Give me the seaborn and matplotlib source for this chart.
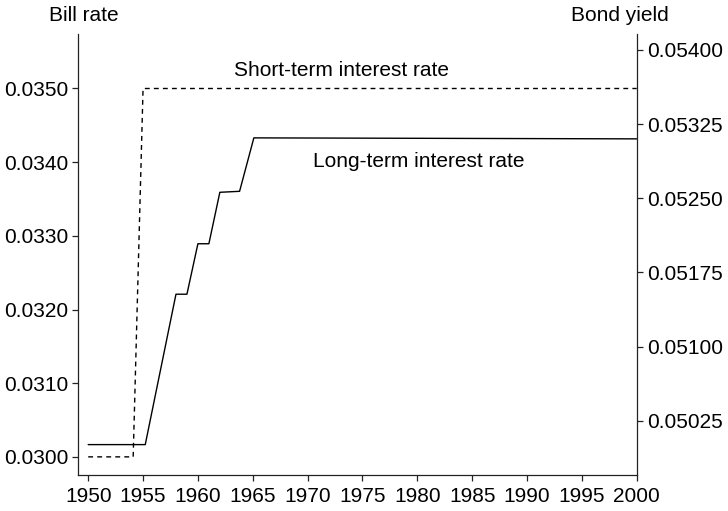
import pandas as pd
import numpy as np
import matplotlib
matplotlib.use("Agg")
import matplotlib.pyplot as plt
import seaborn as sns

# Values
short_years = [1950, 1954.1, 1955, 2000]
bill_rate = [0.0300, 0.0300, 0.0350, 0.0350]

long_years = [1950, 1955.2, 1958, 1959, 1960, 1961, 1962, 1963.8, 1965.1, 2000]
bond_yield = [0.05001, 0.05001, 0.05153, 0.05153, 0.05204, 0.05204,
              0.05256, 0.05257, 0.05311, 0.05310]

x_ticks = list(range(1950, 2001, 5))
left_ticks = [0.0300, 0.0310, 0.0320, 0.0330, 0.0340, 0.0350]
right_ticks = [0.05025, 0.05100, 0.05175, 0.05250, 0.05325, 0.05400]

df_short = pd.DataFrame({"year": short_years, "rate": bill_rate})
df_long = pd.DataFrame({"year": long_years, "yield": bond_yield})

sns.set_style("ticks")
plt.rcParams["font.family"] = ["Liberation Sans", "DejaVu Sans"]
plt.rcParams["font.size"] = 15
plt.rcParams["text.color"] = "black"

FS = 15

fig = plt.figure(figsize=(7.28, 5.11), dpi=100)
ax = fig.add_axes([0.1076, 0.0699, 0.767, 0.8636])
ax2 = ax.twinx()

sns.lineplot(data=df_short, x="year", y="rate", ax=ax, color="black",
             lw=1.0, linestyle=(0, (3.5, 3)))
sns.lineplot(data=df_long, x="year", y="yield", ax=ax2, color="black", lw=1.0)

ax.set_xlim(1949.1, 2000)
ax.set_ylim(0.02975, 0.03574)
ax2.set_ylim(0.0497, 0.05416)

ax.set_xticks(x_ticks)
ax.set_yticks(left_ticks)
ax.set_yticklabels([f"{v:.4f}" for v in left_ticks])
ax2.set_yticks(right_ticks)
ax2.set_yticklabels([f"{v:.5f}" for v in right_ticks])

ax.set_xlabel("")
ax.set_ylabel("")
ax2.set_ylabel("")

for a in (ax, ax2):
    a.spines["top"].set_visible(False)
    for s in ("left", "right", "bottom"):
        a.spines[s].set_linewidth(0.9)
        a.spines[s].set_color("#222222")
    a.tick_params(axis="both", direction="out", length=4.3, width=0.9,
                  labelsize=FS, colors="#222222", labelcolor="black")
ax.spines["right"].set_visible(False)
ax2.spines["left"].set_visible(False)
ax2.spines["bottom"].set_visible(False)
ax.tick_params(axis="y", pad=3)
ax.tick_params(axis="x", pad=4)
ax2.tick_params(axis="y", pad=3)

ax.text(1973.1, 0.03524, "Short-term interest rate", ha="center", va="center",
        fontsize=FS, color="black")
ax.text(1980.1, 0.03401, "Long-term interest rate", ha="center", va="center",
        fontsize=FS, color="black")

fig.text(83.5 / 728, 1 - 15 / 511, "Bill rate", ha="center", va="center",
         fontsize=FS, color="black")
fig.text(620 / 728, 1 - 15 / 511, "Bond yield", ha="center", va="center",
         fontsize=FS, color="black")

fig.savefig("out.png", dpi=100)
